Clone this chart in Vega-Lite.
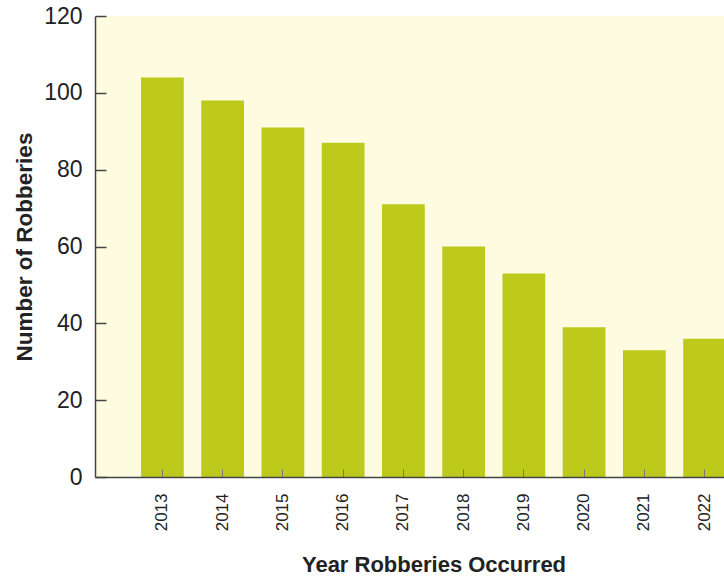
{
  "$schema": "https://vega.github.io/schema/vega-lite/v6.json",
  "autosize": "none",
  "padding": {"left": 95, "top": 16, "right": 0, "bottom": 103},
  "width": 677,
  "height": 461,
  "background": "#ffffff",
  "config": {
    "view": {"fill": "#fdfbe0", "stroke": null},
    "font": "Liberation Sans"
  },
  "data": {
    "values": [
      {"year": "2013", "robberies": 104},
      {"year": "2014", "robberies": 98},
      {"year": "2015", "robberies": 91},
      {"year": "2016", "robberies": 87},
      {"year": "2017", "robberies": 71},
      {"year": "2018", "robberies": 60},
      {"year": "2019", "robberies": 53},
      {"year": "2020", "robberies": 39},
      {"year": "2021", "robberies": 33},
      {"year": "2022", "robberies": 36}
    ]
  },
  "mark": {"type": "bar", "color": "#bdca1c"},
  "encoding": {
    "x": {
      "field": "year",
      "type": "nominal",
      "sort": null,
      "scale": {"paddingInner": 0.29, "paddingOuter": 0.764},
      "axis": {
        "zindex": 1,
        "title": "Year Robberies Occurred",
        "titleFontSize": 22,
        "titleFontWeight": "bold",
        "titleColor": "#222",
        "titlePadding": 24,
        "labelAngle": -90,
        "labelFontSize": 17,
        "labelColor": "#222",
        "labelPadding": 24,
        "tickSize": -8,
        "tickColor": "#777",
        "domainColor": "#444",
        "domainWidth": 1.5
      }
    },
    "y": {
      "field": "robberies",
      "type": "quantitative",
      "scale": {"domain": [0, 120]},
      "axis": {
        "zindex": 1,
        "title": "Number of Robberies",
        "titleFontSize": 22.5,
        "titleFontWeight": "bold",
        "titleColor": "#222",
        "titlePadding": 7,
        "values": [0, 20, 40, 60, 80, 100, 120],
        "labelFontSize": 23,
        "labelColor": "#222",
        "labelPadding": 24,
        "tickSize": -11,
        "tickWidth": 1.5,
        "tickColor": "#444",
        "domainColor": "#444",
        "domainWidth": 1.5,
        "grid": false
      }
    }
  }
}
